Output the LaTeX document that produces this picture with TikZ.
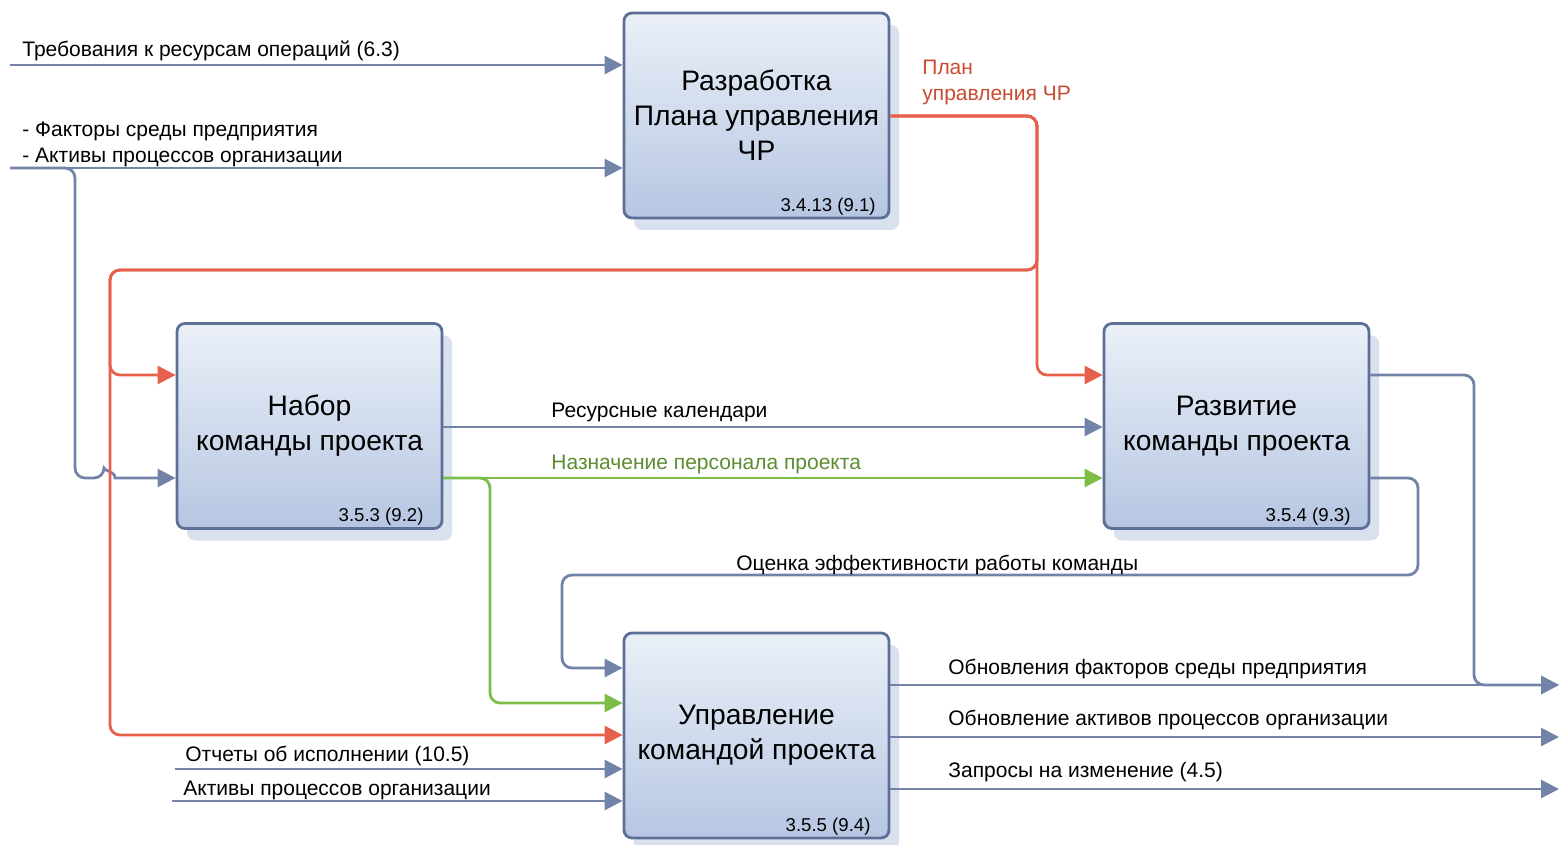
\documentclass[tikz,border=0pt]{standalone}
\usepackage{fontspec}
\setmainfont{Liberation Sans}
\usetikzlibrary{arrows.meta,shadows,calc}

\definecolor{boxline}{HTML}{5B6F97}
\definecolor{boxtop}{HTML}{EBF0F8}
\definecolor{boxbot}{HTML}{B6C6E2}
\definecolor{boxshadow}{HTML}{D9E1EF}
\definecolor{flowblue}{HTML}{7383A8}
\definecolor{flowred}{HTML}{E6604B}
\definecolor{flowgreen}{HTML}{7BBD45}
\definecolor{txtred}{HTML}{C94B30}
\definecolor{txtgreen}{HTML}{5C8C30}

\begin{document}
\begin{tikzpicture}[x=0.5pt,y=-0.5pt,
  proc/.style={draw=boxline, line width=1.4pt, rounded corners=4pt,
    top color=boxtop, bottom color=boxbot,
    minimum width=132.5pt, minimum height=102.5pt, inner sep=0pt,
    align=center, font=\fontsize{14.1}{17.5}\selectfont,
    drop shadow={shadow xshift=5pt, shadow yshift=-6pt, opacity=1, fill=boxshadow}},
  code/.style={anchor=base, inner sep=0pt, font=\fontsize{9.3}{11}\selectfont},
  lbl/.style={anchor=base west, inner sep=0pt, font=\fontsize{10.5}{12}\selectfont},
  conn/.style={line width=1.4pt, rounded corners=5pt},
  tip/.style={-{Triangle[length=9pt,width=9pt]}},
  fb/.style={conn, draw=flowblue},
  fr/.style={conn, draw=flowred},
  fg/.style={conn, draw=flowgreen},
]
\useasboundingbox (0,0) rectangle (1560,845);

% processes
\node[proc] (A) at (756.5,115.5) {Разработка\\Плана управления\\ЧР};
\node[proc] (B) at (309.5,426) {Набор\\команды проекта};
\node[proc] (C) at (1236.5,426) {Развитие\\команды проекта};
\node[proc] (D) at (756.5,735.5) {Управление\\командой проекта};

\node[code] (Ac) at ($(A.south west)+(205.5,-8)$) {3.4.13 (9.1)};
\node[code] (Bc) at ($(B.south west)+(205.5,-8)$) {3.5.3 (9.2)};
\node[code] (Cc) at ($(C.south west)+(205.5,-8)$) {3.5.4 (9.3)};
\node[code] (Dc) at ($(D.south west)+(205.5,-8)$) {3.5.5 (9.4)};

% free ends
\coordinate (in1) at (10,65);
\coordinate (in2) at (10,168);
\coordinate (in3) at (175,769);
\coordinate (in4) at (172,801);
\coordinate (out1) at (1559,685);
\coordinate (out2) at (1559,737);
\coordinate (out3) at (1559,789);

% inputs to A, with the branch to B hopping over the red line
\draw[fb,tip] (in1) -- (in1 -| A.west);
\draw[fb,tip] (in2) -- (in2 -| A.west);
\draw[fb,tip] (in2) -- (75,168) -- (75,478) -- (104,478)
  [sharp corners] .. controls (104,471) and (115,471) .. (115,478)
  -- (B.west |- 0,478);

% HR plan from A to B, C and D
\draw[fr,tip] (A.east |- 0,116) -- (1037,116) -- (1037,375) -- (C.west |- 0,375);
\draw[fr,tip] (A.east |- 0,116) -- (1037,116) -- (1037,270) -- (110,270) -- (110,735) -- (D.west |- 0,735);
\draw[fr,tip] (A.east |- 0,116) -- (1037,116) -- (1037,270) -- (110,270) -- (110,375) -- (B.west |- 0,375);

% B to C and D
\draw[fb,tip] (B.east |- 0,427) -- (C.west |- 0,427);
\draw[fg,tip] (B.east |- 0,478) -- (C.west |- 0,478);
\draw[fg,tip] (B.east |- 0,478) -- (490,478) -- (490,703) -- (D.west |- 0,703);

% C feedback and outputs
\draw[fb,tip] (C.east |- 0,478) -- (1418,478) -- (1418,575) -- (562,575) -- (562,668) -- (D.west |- 0,668);
\draw[fb,tip] (C.east |- 0,375) -- (1474,375) -- (1474,685) -- (out1);

% D inputs and outputs
\draw[fb,tip] (in3) -- (in3 -| D.west);
\draw[fb,tip] (in4) -- (in4 -| D.west);
\draw[fb,tip] (out1 -| D.east) -- (out1);
\draw[fb,tip] (out2 -| D.east) -- (out2);
\draw[fb,tip] (out3 -| D.east) -- (out3);

% labels
\node[lbl] (t1) at (22,57) {Требования к ресурсам операций (6.3)};
\node[lbl] (t2) at (22,137) {- Факторы среды предприятия};
\node[lbl] (t3) at (22,163) {- Активы процессов организации};
\node[lbl,text=txtred] (t4) at (922,75) {План};
\node[lbl,text=txtred] (t5) at (922,101) {управления ЧР};
\node[lbl] (t6) at (551,418) {Ресурсные календари};
\node[lbl,text=txtgreen] (t7) at (551,470) {Назначение персонала проекта};
\node[lbl] (t8) at (736,570) {Оценка эффективности работы команды};
\node[lbl] (t9) at (948,674) {Обновления факторов среды предприятия};
\node[lbl] (t10) at (948,725) {Обновление активов процессов организации};
\node[lbl] (t11) at (948,777) {Запросы на изменение (4.5)};
\node[lbl] (t12) at (185,761) {Отчеты об исполнении (10.5)};
\node[lbl] (t13) at (183,795) {Активы процессов организации};
\end{tikzpicture}
\end{document}
